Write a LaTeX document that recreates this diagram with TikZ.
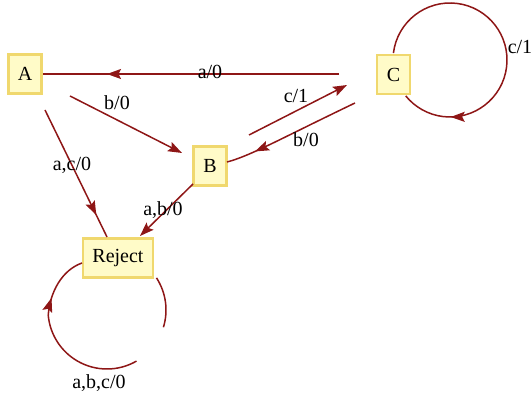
\documentclass[tikz,border=0pt]{standalone}
\usepackage{fontspec}
\setmainfont{Liberation Serif}
\usetikzlibrary{arrows.meta,decorations.markings}
\definecolor{edgered}{RGB}{142,22,22}
\definecolor{boxfill}{RGB}{255,251,200}
\definecolor{boxline}{RGB}{240,216,110}
\tikzset{
  state/.style={draw=boxline, fill=boxfill, line width=2.2pt, inner sep=0pt,
    minimum width=33pt, minimum height=39pt, font=\fontsize{20}{24}\selectfont},
  edge/.style={draw=edgered, line width=1.5pt},
  tipat/.style={postaction={decorate, decoration={markings,
    mark=at position #1 with {\arrow[edgered]{Stealth[length=14pt,width=10pt,inset=2.5pt]}}}}},
  endtip/.style={-{Stealth[length=14pt,width=10pt,inset=2.5pt]}},
  lbl/.style={font=\fontsize{20}{24}\selectfont, inner sep=0pt, text=black}
}
\begin{document}
\begin{tikzpicture}[x=1pt,y=1pt]
\useasboundingbox (0,0) rectangle (531,396);
% states
\node[state] (A) at (25,322) {A};
\node[state] (C) at (393.5,321.5) {C};
\node[state] (B) at (210,230) {B};
\node[state, minimum width=70pt] (R) at (118,138) {Reject};
% free ends
\coordinate (cA) at (339,322);
\coordinate (aB1) at (70,300);
\coordinate (aB2) at (182,243);
\coordinate (aR1) at (45,286);
\coordinate (aR2) at (107,159);
\coordinate (bR1) at (193,212);
\coordinate (bR2) at (140,160);
\coordinate (bC1) at (249,261);
\coordinate (bC2) at (347,311);
\coordinate (cB1) at (355,293);
\coordinate (cB2) at (227,234);
\coordinate (cLoop) at (450,336);
\coordinate (rLoop) at (107,86);
\coordinate (rIn) at (82,133);
% edges
\draw[edge, tipat=232pt] (cA) -- (A.east);
\draw[edge, endtip] (aB1) -- (aB2);
\draw[edge, tipat=117pt] (aR1) -- (aR2);
\draw[edge, endtip] (bR1) -- (bR2);
\draw[edge, endtip] (bC1) -- (bC2);
\draw[edge, tipat=111pt] (cB1) .. controls (280,257) and (250,240) .. (cB2);
\draw[edge, tipat=261pt] ([shift={(173:57)}]cLoop) arc[start angle=173, end angle=-141, radius=57];
\draw[edge] ([shift={(33:59)}]rLoop) arc[start angle=33, end angle=-17, radius=59];
\draw[edge, tipat=136pt] ([shift={(-60:59)}]rLoop) arc[start angle=-60, end angle=-175, radius=59]
   .. controls (50,104) and (62,126) .. (rIn);
% labels
\node[lbl] (l1) at (210,324) {a/0};
\node[lbl] (l2) at (117,293) {b/0};
\node[lbl] (l3) at (72,231) {a,c/0};
\node[lbl] (l4) at (163,186) {a,b/0};
\node[lbl] (l5) at (296,300) {c/1};
\node[lbl] (l6) at (306,256) {b/0};
\node[lbl] (l7) at (520,349) {c/1};
\node[lbl] (l8) at (99,13) {a,b,c/0};
\end{tikzpicture}
\end{document}
